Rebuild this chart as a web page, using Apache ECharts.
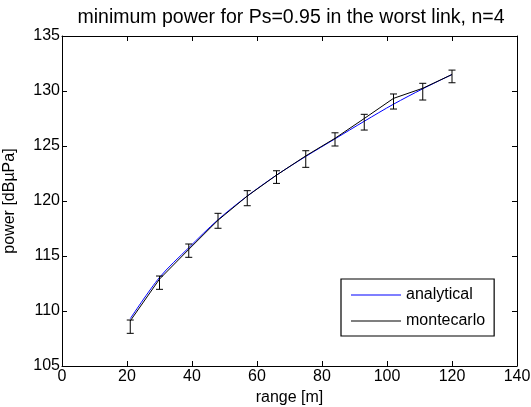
<!DOCTYPE html>
<html>
<head>
<meta charset="utf-8">
<script src="https://cdn.jsdelivr.net/npm/echarts@6/dist/echarts.min.js"></script>
<style>html,body{margin:0;padding:0;background:#fff;}#c{width:531px;height:407px;}</style>
</head>
<body>
<div id="c"></div>
<script>
const ranges = [21, 30, 39, 48, 57, 66, 75, 84, 93, 102, 111, 120];
const analytical = [109.3, 113.05, 115.75, 118.3, 120.45, 122.35, 124.05, 125.65, 127.25, 128.8, 130.2, 131.5];
const montecarlo = [109.1, 112.9, 115.6, 118.25, 120.45, 122.35, 124.1, 125.7, 127.5, 129.33, 130.25, 131.5];
const errLow  = [107.97, 111.97, 114.88, 117.52, 119.57, 121.6, 123.06, 125.0, 126.45, 128.36, 129.18, 130.75];
const errHigh = [109.18, 113.18, 116.09, 118.88, 120.94, 122.75, 124.57, 126.2, 127.88, 129.73, 130.7, 131.9];

const FONT = 'Liberation Sans, Arial, Helvetica, sans-serif';
const chart = echarts.init(document.getElementById('c'));

const pairs = (ys) => ranges.map((x, i) => [x, ys[i]]);
const errData = ranges.map((x, i) => [x, errLow[i], errHigh[i]]);

const axisCommon = {
  axisLine: { show: true, onZero: false, lineStyle: { color: '#000', width: 1 } },
  axisTick: { show: true, inside: true, length: 5, lineStyle: { color: '#000' } },
  splitLine: { show: false }
};

chart.setOption({
  animation: false,
  backgroundColor: '#fff',
  title: {
    text: 'minimum power for Ps=0.95 in the worst link, n=4',
    left: 286, top: 3, textAlign: 'center',
    textStyle: { fontFamily: FONT, fontSize: 19.5, fontWeight: 'normal', color: '#000' }
  },
  grid: { left: 62, right: 14, top: 36, bottom: 41, containLabel: false, outerBoundsMode: 'none' },
  legend: {
    data: ['analytical', 'montecarlo'],
    orient: 'vertical',
    left: 341, top: 279,
    padding: [8, 9, 7, 10],
    itemGap: 10,
    icon: 'rect',
    itemWidth: 50, itemHeight: 1.2,
    borderColor: '#000', borderWidth: 1.2,
    backgroundColor: '#fff',
    textStyle: { fontFamily: FONT, fontSize: 16, lineHeight: 16, color: '#000' }
  },
  xAxis: [
    Object.assign({
      type: 'value', min: 0, max: 140, interval: 20,
      name: 'range [m]', nameLocation: 'middle', nameGap: 16,
      nameTextStyle: { fontFamily: FONT, fontSize: 16, color: '#000' },
      axisLabel: { fontFamily: FONT, fontSize: 16, color: '#000', margin: 3 }
    }, axisCommon),
    Object.assign({
      type: 'value', min: 0, max: 140, interval: 20, position: 'top',
      axisLabel: { show: false }
    }, axisCommon)
  ],
  yAxis: [
    Object.assign({
      type: 'value', min: 105, max: 135, interval: 5,
      name: 'power [dBµPa]', nameLocation: 'middle', nameGap: 44,
      nameTextStyle: { fontFamily: FONT, fontSize: 16, color: '#000' },
      axisLabel: { fontFamily: FONT, fontSize: 16, color: '#000', margin: 2 }
    }, axisCommon),
    Object.assign({
      type: 'value', min: 105, max: 135, interval: 5, position: 'right',
      axisLabel: { show: false }
    }, axisCommon)
  ],
  series: [
    {
      name: 'analytical', type: 'line', data: pairs(analytical),
      smooth: 0.3, showSymbol: false, symbol: 'none',
      lineStyle: { color: '#0000ff', width: 1 }, itemStyle: { color: '#0000ff' }, z: 3
    },
    {
      name: 'montecarlo', type: 'line', data: pairs(montecarlo),
      showSymbol: false, symbol: 'none',
      lineStyle: { color: '#000', width: 1 }, itemStyle: { color: '#000' }, z: 4
    },
    {
      name: 'errorbars', type: 'custom', data: errData, z: 5,
      encode: { x: 0, y: [1, 2] },
      renderItem: function (params, api) {
        const x = api.value(0);
        const lo = api.coord([x, api.value(1)]);
        const hi = api.coord([x, api.value(2)]);
        const w = 3.5;
        const st = { stroke: '#000', lineWidth: 1 };
        return {
          type: 'group',
          children: [
            { type: 'line', shape: { x1: lo[0], y1: lo[1], x2: hi[0], y2: hi[1] }, style: st },
            { type: 'line', shape: { x1: lo[0] - w, y1: lo[1], x2: lo[0] + w, y2: lo[1] }, style: st },
            { type: 'line', shape: { x1: hi[0] - w, y1: hi[1], x2: hi[0] + w, y2: hi[1] }, style: st }
          ]
        };
      }
    }
  ]
});
</script>
</body>
</html>
